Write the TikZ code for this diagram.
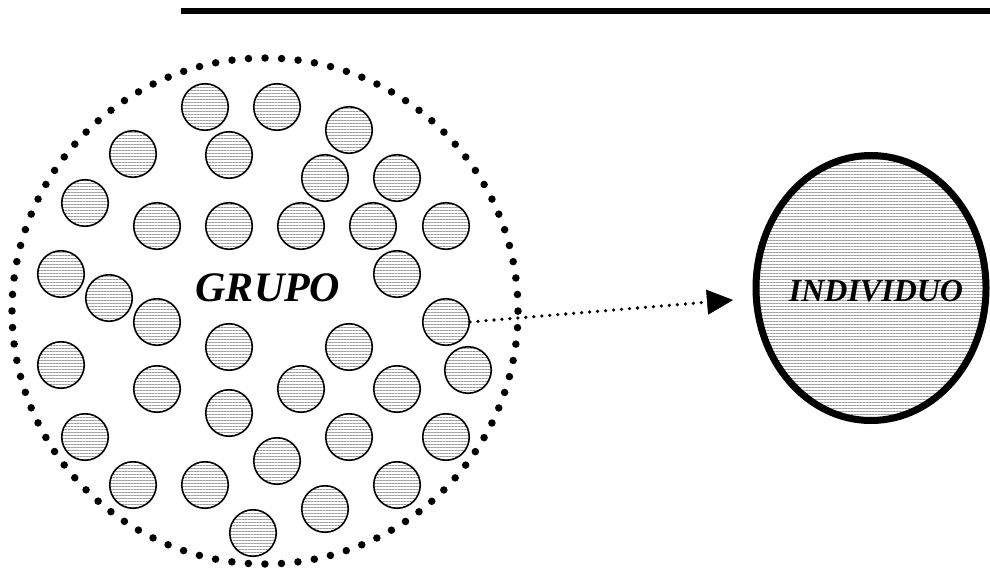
\documentclass[tikz,border=0pt]{standalone}
\usepackage{fontspec}
\setmainfont{Liberation Serif}
\usetikzlibrary{arrows.meta,shapes.geometric,patterns.meta}

\begin{document}
\begin{tikzpicture}[
x=1pt, y=-1pt,
hatch/.style={pattern={Lines[angle=0, distance=3pt, line width=0.8pt]}, pattern color=black!38},
member/.style={draw, circle, hatch, line width=1.6pt, minimum size=46.5pt, inner sep=0pt},
crowd/.style={draw, circle, line width=7.5pt, line cap=round, dash pattern=on 0pt off 16.56pt, minimum size=506pt, inner sep=0pt},
single/.style={draw, ellipse, hatch, line width=7pt, minimum width=230pt, minimum height=265pt, inner sep=0pt},
lbl/.style={font=\bfseries\itshape},
arr/.style={-{Triangle[length=26pt, width=25pt, line width=0.5pt]}, line width=3.6pt, line cap=round, dash pattern=on 0pt off 8pt}
]
\useasboundingbox (0,0) rectangle (990,570);
\draw[line width=6pt] (181,11) -- (990,11);
\node[crowd] (grupo) at (265,311) {};
\foreach \x/\y [count=\i] in {205/107, 277/107, 349/130, 133/154, 229/155, 325/178, 397/178,
  85/203, 157/226, 229/226, 301/226, 373/226, 446/226, 61/274, 397/274, 109/298, 157/322,
  446/322, 229/347, 349/347, 61/365, 468/370, 157/389, 301/389, 397/389, 229/413, 85/437,
  349/437, 446/437, 277/461, 133/485, 205/485, 397/485, 325/509, 253/533}
  \node[member] (g\i) at (\x,\y) {};
\node[lbl, font=\fontsize{42}{44}\selectfont\bfseries\itshape] (glabel) at (268,288) {GRUPO};
\node[single] (ind) at (871,288) {};
\node[lbl, font=\fontsize{32}{34}\selectfont\bfseries\itshape] (ilabel) at (876,291) {INDIVIDUO};
\coordinate (tip) at (733,300);
\draw[arr] (g18.east) -- (tip);
\end{tikzpicture}
\end{document}
